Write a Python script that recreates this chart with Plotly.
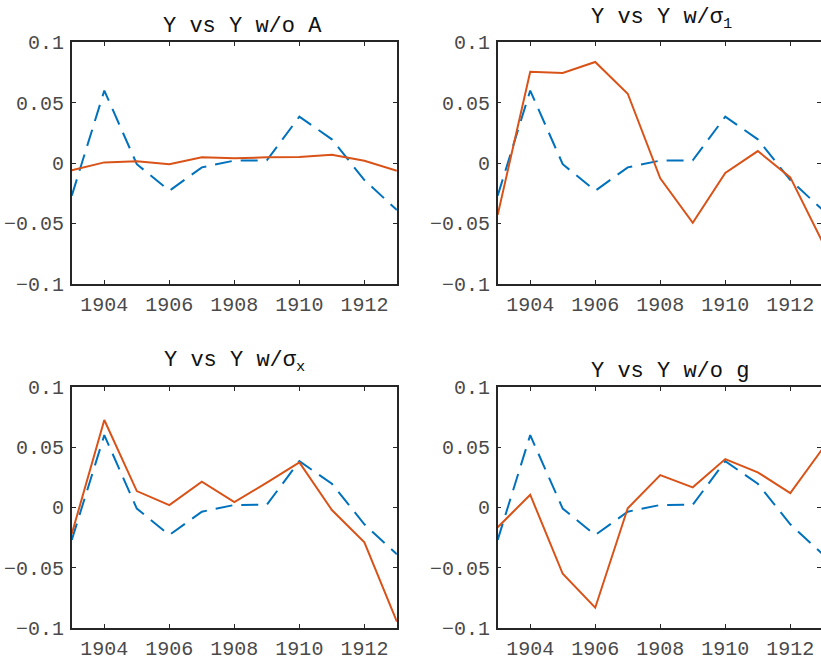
import plotly.graph_objects as go

years = [1903, 1904, 1905, 1906, 1907, 1908, 1909, 1910, 1911, 1912, 1913]
y_base = [-0.027, 0.060, -0.001, -0.023, -0.0036, 0.002, 0.0022, 0.0384, 0.0196, -0.0141, -0.039]
y_wo_A = [-0.006, 0.0005, 0.0014, -0.0011, 0.0047, 0.0039, 0.0047, 0.005, 0.0069, 0.0019, -0.0064]
y_w_sigma1 = [-0.043, 0.0756, 0.0746, 0.0837, 0.0574, -0.0127, -0.0495, -0.0083, 0.0099, -0.0119, -0.066]
y_w_sigmax = [-0.022, 0.0726, 0.0135, 0.0019, 0.0213, 0.0044, 0.0205, 0.0374, -0.0022, -0.029, -0.095]
y_wo_g = [-0.0166, 0.0105, -0.0552, -0.0834, -0.0008, 0.0268, 0.0166, 0.0401, 0.0291, 0.0119, 0.049]

titles = ["Y vs Y w/o A", "Y vs Y w/σ<sub>1</sub>", "Y vs Y w/σ<sub>x</sub>", "Y vs Y w/o g"]
series = [y_wo_A, y_w_sigma1, y_w_sigmax, y_wo_g]

x_ticks = [1904, 1906, 1908, 1910, 1912]
y_ticks = [-0.1, -0.05, 0, 0.05, 0.1]
y_tick_text = ["\u22120.1", "\u22120.05", "0", "0.05", "0.1"]

W, H = 821, 661
BLUE = "#0072BD"
ORANGE = "#D95319"
AX = "#262626"
FONT = "Liberation Mono"

# pixel geometry of each axes box: (left, right, top, bottom)
boxes = [
    (71.8, 396.9, 42.3, 283.7),
    (497.7, 821.0, 42.3, 283.7),
    (71.8, 396.9, 387.0, 627.7),
    (497.7, 821.0, 387.0, 627.7),
]
title_pos = [(243, 27), (661, 19), (234, 362), (670, 372)]

fig = go.Figure()
layout = dict(
    width=W, height=H,
    margin=dict(l=0, r=0, t=0, b=0, pad=0, autoexpand=False),
    paper_bgcolor="white", plot_bgcolor="white",
    showlegend=False,
    annotations=[],
)

px_per_year = (396.9 - 71.8) / 10.0

for i, (l, r, t, b) in enumerate(boxes):
    k = "" if i == 0 else str(i + 1)
    xa, ya = "x" + k, "y" + k
    fig.add_trace(go.Scatter(x=years, y=y_base, mode="lines", xaxis=xa, yaxis=ya,
                             line=dict(color=BLUE, width=2, dash="17px,9px"), hoverinfo="skip"))
    fig.add_trace(go.Scatter(x=years, y=series[i], mode="lines", xaxis=xa, yaxis=ya,
                             line=dict(color=ORANGE, width=2), hoverinfo="skip"))
    xmax = 1903 + (r - l) / px_per_year
    layout["xaxis" + k] = dict(
        domain=[l / W, r / W], anchor=ya, range=[1903, xmax],
        tickvals=x_ticks, ticktext=[str(v) for v in x_ticks],
        ticks="inside", ticklen=4, tickwidth=1.2, tickcolor=AX,
        showline=True, linecolor=AX, linewidth=1.5, mirror="allticks",
        showgrid=False, zeroline=False, automargin=False,
        tickfont=dict(family=FONT, size=20, color="#4a4a4a"),
        ticklabelstandoff=2,
    )
    layout["yaxis" + k] = dict(
        domain=[(H - b) / H, (H - t) / H], anchor=xa, range=[-0.1, 0.1],
        tickvals=y_ticks, ticktext=y_tick_text,
        ticks="inside", ticklen=4, tickwidth=1.2, tickcolor=AX,
        showline=True, linecolor=AX, linewidth=1.5, mirror="allticks",
        showgrid=False, zeroline=False, automargin=False,
        tickfont=dict(family=FONT, size=20, color="#4a4a4a"),
        ticklabelstandoff=2,
    )
    tx, ty = title_pos[i]
    layout["annotations"].append(dict(
        text=titles[i], x=tx / W, y=(H - ty) / H,
        xref="paper", yref="paper", xanchor="center", yanchor="middle",
        showarrow=False, font=dict(family=FONT, size=22, color="#111111"),
    ))

fig.update_layout(**layout)
fig.write_html("out.html")
